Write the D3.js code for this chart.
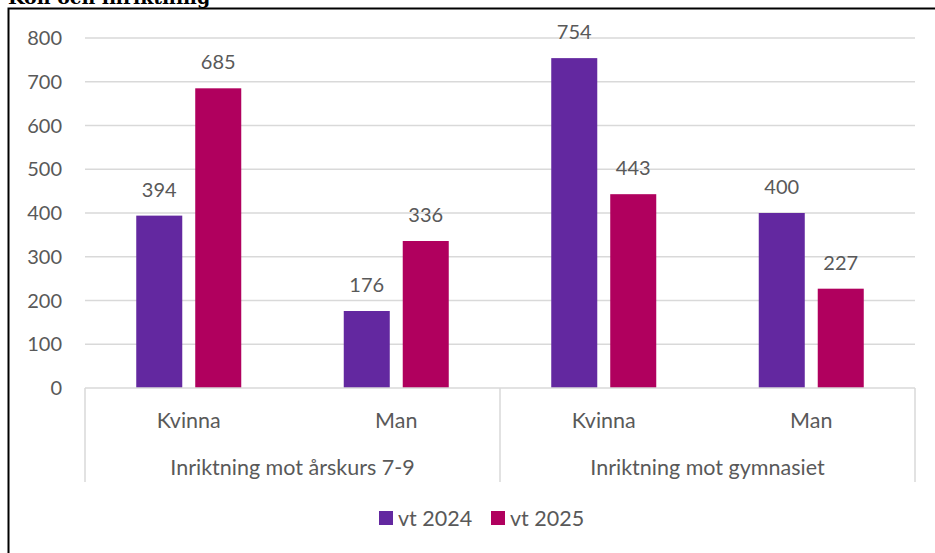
<!DOCTYPE html>
<html>
<head>
<meta charset="utf-8">
<script src="https://cdn.jsdelivr.net/npm/d3@7"></script>
<style>
  body { margin: 0; background: #fff; }
  text { font-family: Lato, "Open Sans", sans-serif; fill: #595959; }
</style>
</head>
<body>
<svg id="chart" width="935" height="553"></svg>
<script>
var groups = ["Inriktning mot årskurs 7-9", "Inriktning mot gymnasiet"];
var genders = ["Kvinna", "Man"];
var seriesNames = ["vt 2024", "vt 2025"];
var vt2024 = [394, 176, 754, 400];
var vt2025 = [685, 336, 443, 227];
var yTicks = [0, 100, 200, 300, 400, 500, 600, 700, 800];
var colors = ["#6328a0", "#b0005e"];

var svg = d3.select("#chart");

var margin = {left: 85, right: 20, top: 38, bottom: 165},
    width = 935 - margin.left - margin.right,
    height = 553 - margin.top - margin.bottom;

// title, mostly cut off at the top (as in the source)
svg.append("text")
    .attr("x", 8).attr("y", 4)
    .style("font-family", "'DejaVu Serif', serif")
    .style("font-weight", "bold")
    .style("font-size", "19px")
    .style("fill", "#000")
    .text("Kön och inriktning");

// frame
svg.append("rect")
    .attr("x", 8.5).attr("y", 8.5)
    .attr("width", 940).attr("height", 560)
    .attr("fill", "none")
    .attr("stroke", "#000")
    .attr("stroke-width", 2);

var g = svg.append("g").attr("transform", "translate(" + margin.left + "," + margin.top + ")");

var cats = [];
groups.forEach(function(gr, gi) {
    genders.forEach(function(ge, k) {
        cats.push({group: gr, gender: ge, key: gi + "-" + k, idx: gi * 2 + k});
    });
});

var x0 = d3.scaleBand().domain(cats.map(function(d) { return d.key; })).range([0, width]);
var x1 = d3.scaleBand().domain(seriesNames).range([0, 105]).paddingInner(0.22);
var y = d3.scaleLinear().domain([0, 800]).range([height, 0]);

// gridlines
g.selectAll(".grid").data(yTicks.slice(1)).enter().append("line")
    .attr("x1", 0).attr("x2", width)
    .attr("y1", function(d) { return y(d); }).attr("y2", function(d) { return y(d); })
    .attr("stroke", "#d9d9d9").attr("stroke-width", 1.5);

// y axis labels
g.selectAll(".ytick").data(yTicks).enter().append("text")
    .attr("x", -23).attr("y", function(d) { return y(d); })
    .attr("dy", "0.36em")
    .attr("text-anchor", "end")
    .style("font-size", "20px")
    .text(function(d) { return d; });

// bars
var data = [vt2024, vt2025];
var cat = g.selectAll(".cat").data(cats).enter().append("g")
    .attr("transform", function(d) {
        return "translate(" + (x0(d.key) + (x0.bandwidth() - 105) / 2) + ",0)";
    });

function vals(d) {
    return seriesNames.map(function(s, si) { return {s: s, si: si, v: data[si][d.idx]}; });
}

cat.selectAll("rect").data(vals).enter().append("rect")
    .attr("x", function(d) { return x1(d.s); })
    .attr("width", x1.bandwidth())
    .attr("y", function(d) { return y(d.v); })
    .attr("height", function(d) { return height - y(d.v); })
    .attr("fill", function(d) { return colors[d.si]; });

cat.selectAll(".lbl").data(vals).enter().append("text")
    .attr("x", function(d) { return x1(d.s) + x1.bandwidth() / 2; })
    .attr("y", function(d) { return y(d.v) - 19; })
    .attr("text-anchor", "middle")
    .style("font-size", "20px")
    .text(function(d) { return d.v; });

// category axis
var axisColor = "#d9d9d9";
g.append("line")
    .attr("x1", 0).attr("x2", width)
    .attr("y1", height).attr("y2", height)
    .attr("stroke", axisColor).attr("stroke-width", 1.5);

var groupW = width / groups.length;
d3.range(groups.length + 1).forEach(function(i) {
    g.append("line")
        .attr("x1", i * groupW).attr("x2", i * groupW)
        .attr("y1", height).attr("y2", height + 94)
        .attr("stroke", axisColor).attr("stroke-width", 1.5);
});

g.selectAll(".clbl").data(cats).enter().append("text")
    .attr("x", function(d) { return x0(d.key) + x0.bandwidth() / 2; })
    .attr("y", height + 32)
    .attr("dy", "0.36em")
    .attr("text-anchor", "middle")
    .style("font-size", "21.5px")
    .text(function(d) { return d.gender; });

g.selectAll(".glbl").data(groups).enter().append("text")
    .attr("x", function(d, i) { return (i + 0.5) * groupW; })
    .attr("y", height + 79)
    .attr("dy", "0.36em")
    .attr("text-anchor", "middle")
    .style("font-size", "21.5px")
    .text(function(d) { return d; });

// legend
var legend = svg.append("g").attr("transform", "translate(379,518)");
var items = legend.selectAll("g").data(seriesNames).enter().append("g")
    .attr("transform", function(d, i) { return "translate(" + (i * 112) + ",0)"; });
items.append("rect")
    .attr("x", 0).attr("y", -7)
    .attr("width", 14).attr("height", 14)
    .attr("fill", function(d, i) { return colors[i]; });
items.append("text")
    .attr("x", 19).attr("y", 0).attr("dy", "0.36em")
    .style("font-size", "21.5px")
    .text(function(d) { return d; });
</script>
</body>
</html>
